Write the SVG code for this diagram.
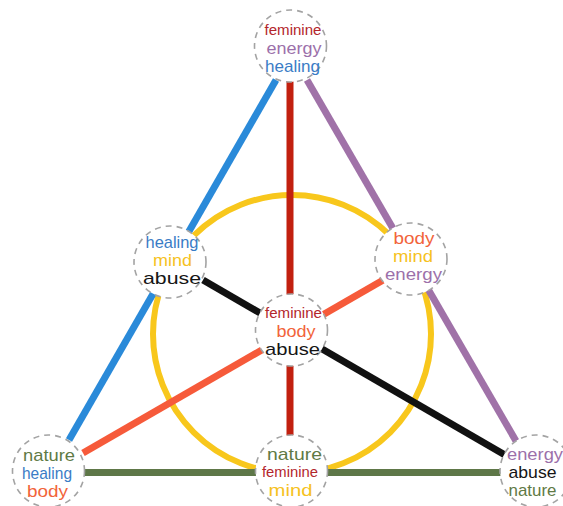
<svg xmlns="http://www.w3.org/2000/svg" width="563" height="506" viewBox="0 0 563 506">
<style>
.ring{fill:#fff;stroke:#a3a3a3;stroke-width:1.6;stroke-dasharray:6 5}
text{font-family:"Liberation Sans",Arial,sans-serif;font-size:17px;text-anchor:middle}
.fem{fill:#b3262c;font-size:15.5px}
.ene{fill:#9c70aa}
.hea{fill:#3a7cc6}
.min{fill:#f6c21f}
.abu{fill:#151515}
.bod{fill:#f2643a}
.nat{fill:#5f7a45}
.ln{fill:none;stroke-width:7;stroke-linecap:butt}
</style>
<rect width="563" height="506" fill="#fff"/>
<g id="connectors">
<circle cx="292" cy="334" r="139" fill="none" stroke="#f8c71c" stroke-width="6"/>
<line class="ln" x1="290" y1="78" x2="290" y2="440" stroke="#c2200f"/>
<line class="ln" x1="276" y1="80" x2="69" y2="440" stroke="#2a8ad9"/>
<line class="ln" x1="307" y1="80" x2="516" y2="441" stroke="#a072a8"/>
<line class="ln" x1="203" y1="280" x2="505" y2="455" stroke="#111"/>
<line class="ln" x1="385" y1="279" x2="83" y2="453" stroke="#f65a3a"/>
<line class="ln" x1="84" y1="472.5" x2="502" y2="472.5" stroke="#5e7748" stroke-width="8"/>
</g>
<g id="node-top">
<circle class="ring" cx="290.5" cy="46" r="36"/>
<text class="fem" x="293" y="35" textLength="57" lengthAdjust="spacingAndGlyphs">feminine</text>
<text class="ene" x="294" y="54" textLength="55" lengthAdjust="spacingAndGlyphs">energy</text>
<text class="hea" x="292.5" y="72" textLength="55" lengthAdjust="spacingAndGlyphs">healing</text>
</g>
<g id="node-left">
<circle class="ring" cx="170" cy="262" r="36"/>
<text class="hea" x="172" y="248" textLength="53" lengthAdjust="spacingAndGlyphs">healing</text>
<text class="min" x="172.5" y="266" textLength="39" lengthAdjust="spacingAndGlyphs">mind</text>
<text class="abu" x="172" y="284" textLength="58" lengthAdjust="spacingAndGlyphs">abuse</text>
</g>
<g id="node-right">
<circle class="ring" cx="411" cy="259" r="36"/>
<text class="bod" x="414" y="244" textLength="41" lengthAdjust="spacingAndGlyphs">body</text>
<text class="min" x="413" y="262" textLength="40" lengthAdjust="spacingAndGlyphs">mind</text>
<text class="ene" x="413.5" y="280" textLength="57" lengthAdjust="spacingAndGlyphs">energy</text>
</g>
<g id="node-center">
<circle class="ring" cx="291.5" cy="330" r="36"/>
<text class="fem" x="293.5" y="318" textLength="57" lengthAdjust="spacingAndGlyphs">feminine</text>
<text class="bod" x="296" y="337" textLength="39" lengthAdjust="spacingAndGlyphs">body</text>
<text class="abu" x="292.5" y="355" textLength="55" lengthAdjust="spacingAndGlyphs">abuse</text>
</g>
<g id="node-bottom-left">
<circle class="ring" cx="48.5" cy="471" r="36"/>
<text class="nat" x="49" y="461" textLength="52" lengthAdjust="spacingAndGlyphs">nature</text>
<text class="hea" x="47" y="479" textLength="50" lengthAdjust="spacingAndGlyphs">healing</text>
<text class="bod" x="47.5" y="497" textLength="41" lengthAdjust="spacingAndGlyphs">body</text>
</g>
<g id="node-bottom-mid">
<circle class="ring" cx="291.5" cy="471" r="36"/>
<text class="nat" x="294.5" y="460" textLength="55" lengthAdjust="spacingAndGlyphs">nature</text>
<text class="fem" x="290" y="477" textLength="56" lengthAdjust="spacingAndGlyphs">feminine</text>
<text class="min" x="290.5" y="496" textLength="44" lengthAdjust="spacingAndGlyphs">mind</text>
</g>
<g id="node-bottom-right">
<circle class="ring" cx="536" cy="471" r="36"/>
<text class="ene" x="535" y="460" textLength="56" lengthAdjust="spacingAndGlyphs">energy</text>
<text class="abu" x="532.5" y="478" textLength="48" lengthAdjust="spacingAndGlyphs">abuse</text>
<text class="nat" x="532.5" y="496" textLength="48" lengthAdjust="spacingAndGlyphs">nature</text>
</g>
</svg>
